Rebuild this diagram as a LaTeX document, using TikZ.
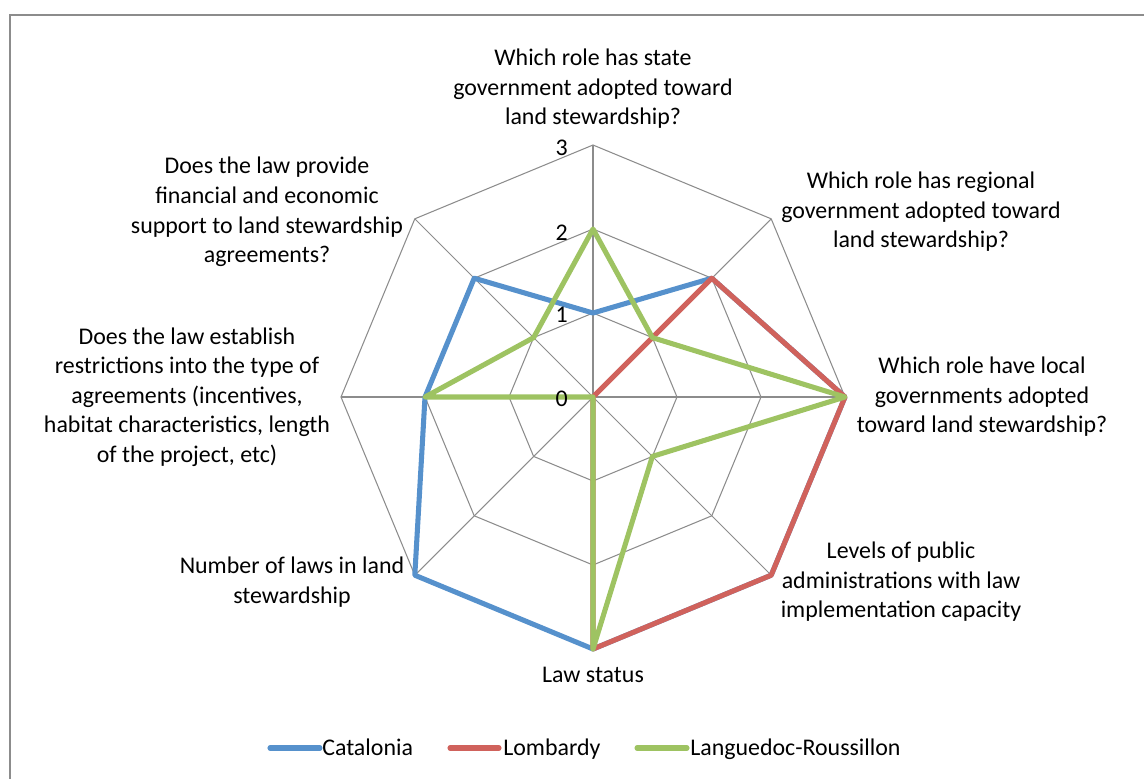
\documentclass[tikz,border=0pt]{standalone}
\usepackage{fontspec}
\setmainfont{Carlito}
\usepackage{xcolor}
\usepackage{tikz}
\usetikzlibrary{calc}
\definecolor{catblue}{RGB}{86,145,204}
\definecolor{lomred}{RGB}{208,98,92}
\definecolor{langreen}{RGB}{158,195,98}
\definecolor{gridgray}{RGB}{140,140,140}

\begin{document}
\begin{tikzpicture}[x=0.025cm,y=-0.025cm,
	grid/.style={gridgray,line width=0.75pt},
	series/.style={line width=3.6pt,line join=round},
	lbl/.style={align=center,inner sep=0pt,font=\fontsize{17}{21}\selectfont},
	tick/.style={anchor=base east,inner sep=0pt,font=\fontsize{17}{21}\selectfont}]
	\useasboundingbox (0,0) rectangle (1144,778);
	\draw[gridgray,line width=0.8pt] (10,15) rectangle (1170,800);
	% web and spokes
	\begin{scope}[shift={(593,397)}]
	\foreach \r in {84,168,252}
		\draw[grid] (-90:\r) -- (-45:\r) -- (0:\r) -- (45:\r) -- (90:\r) -- (135:\r) -- (180:\r) -- (225:\r) -- cycle;
	\foreach \a in {-90,-45,...,225}
		\draw[grid] (0,0) -- (\a:252);
	% series
	\draw[series,catblue] (-90:84) -- (-45:168) -- (0:252) -- (45:252) -- (90:252) -- (135:252) -- (180:168) -- (225:168) -- cycle;
	\draw[series,lomred] (0,0) -- (-45:168) -- (0:252) -- (45:252) -- (90:252) -- cycle;
	\draw[series,langreen] (-90:168) -- (-45:84) -- (0:252) -- (45:84) -- (90:252) -- (0,0) -- (180:168) -- (225:84) -- cycle;
	\end{scope}
	% scale
	\node[tick] (t3) at (568,155) {3};
	\node[tick] (t2) at (568,240) {2};
	\node[tick] (t1) at (568,322) {1};
	\node[tick] (t0) at (568,406) {0};
	% axis labels
	\node[lbl] (state) at (593,89) {Which role has state\\government adopted toward\\land stewardship?};
	\node[lbl] (regional) at (921,212) {Which role has regional\\government adopted toward\\land stewardship?};
	\node[lbl] (local) at (982,397) {Which role have local\\governments adopted\\toward land stewardship?};
	\node[lbl] (levels) at (901,582) {Levels of public\\administrations with law\\implementation capacity};
	\node[lbl] (status) at (593,675) {Law status};
	\node[lbl] (number) at (292,582) {Number of laws in land\\stewardship};
	\node[lbl] (restrict) at (187,397) {Does the law establish\\restrictions into the type of\\agreements (incentives,\\habitat characteristics, length\\of the project, etc)};
	\node[lbl] (support) at (267,212) {Does the law provide\\financial and economic\\support to land stewardship\\agreements?};
	% legend
	\draw[series,catblue,line cap=round] (270,748) -- (320,748);
	\node[lbl,anchor=base west] (legcat) at (322,755) {Catalonia};
	\draw[series,lomred,line cap=round] (450,748) -- (499,748);
	\node[lbl,anchor=base west] (leglom) at (503,755) {Lombardy};
	\draw[series,langreen,line cap=round] (637,748) -- (687,748);
	\node[lbl,anchor=base west] (leglan) at (690,755) {Languedoc-Roussillon};
\end{tikzpicture}
\end{document}
